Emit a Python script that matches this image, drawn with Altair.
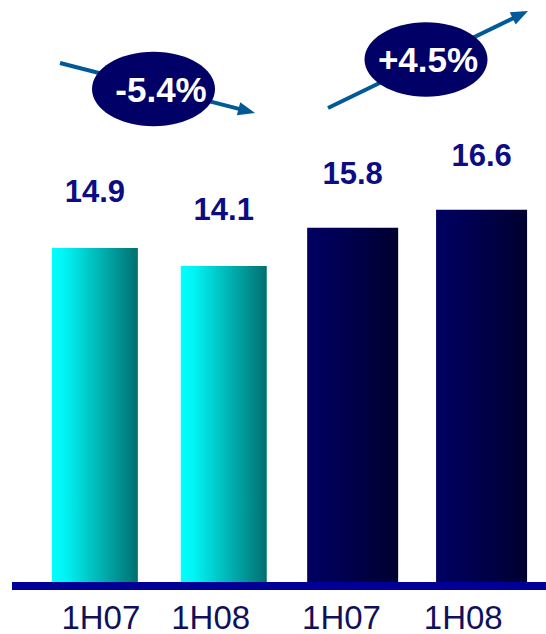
import math
import altair as alt
import pandas as pd

# ---------------- data ----------------
periods = ["1H07", "1H08", "1H07", "1H08"]
values = [14.9, 14.1, 15.8, 16.6]
groups = ["A", "A", "B", "B"]
changes = ["-5.4%", "+4.5%"]

df = pd.DataFrame({"idx": list(range(len(values))), "period": periods,
                   "value": values, "group": groups})
left = df[df["group"] == "A"]
right = df[df["group"] == "B"]

# ---------------- layout / style ----------------
W, H = 546, 582
xscale = alt.Scale(domain=[-0.697, 3.461], nice=False, zero=False)
yscale = alt.Scale(domain=[0, 25.96], nice=False, zero=True)

label_expr = "[" + ",".join("'%s'" % p for p in periods) + "][datum.value]"
x_axis = alt.Axis(
    values=list(range(len(periods))), labelExpr=label_expr, title=None,
    domain=False, ticks=False, tickSize=0, grid=False,
    labelFont="Liberation Sans", labelFontSize=33, labelColor="#10105c",
    labelPadding=46, labelBaseline="alphabetic", labelAlign="center",
    labelOffset=alt.ExprRef("[5.5,-13.6,-11.7,-18.8][datum.value]"),
)

X = alt.X("idx:Q", scale=xscale, axis=x_axis)
Y = alt.Y("value:Q", scale=yscale, axis=None)

cyan_grad = alt.Gradient(
    gradient="linear", x1=0, x2=1, y1=0, y2=0,
    stops=[alt.GradientStop(color="#00ffff", offset=0),
           alt.GradientStop(color="#00f4f4", offset=0.15),
           alt.GradientStop(color="#006f6f", offset=1)])
navy_grad = alt.Gradient(
    gradient="linear", x1=0, x2=1, y1=0, y2=0,
    stops=[alt.GradientStop(color="#000062", offset=0),
           alt.GradientStop(color="#00005a", offset=0.2),
           alt.GradientStop(color="#000030", offset=1)])

bars_left = alt.Chart(left).mark_bar(width=86, color=cyan_grad).encode(x=X, y=Y)
bars_right = alt.Chart(right).mark_bar(width=91, color=navy_grad).encode(x=X, y=Y)

lab_style = dict(font="Liberation Sans", fontSize=31, fontWeight="bold",
                 color="#0c0c85", baseline="alphabetic", align="center")
labels_left = alt.Chart(left).mark_text(dy=-46, **lab_style).encode(
    x=X, y=Y, text=alt.Text("value:Q", format=".1f"))
labels_right = alt.Chart(right).mark_text(dy=-44, **lab_style).encode(
    x=X, y=Y, text=alt.Text("value:Q", format=".1f"))

one = pd.DataFrame({"k": [0]})
baseline = alt.Chart(one).mark_rule(color="#000096", strokeWidth=8).encode(
    x=alt.value(12), x2=alt.value(546), y=alt.value(586))

# change call-outs: ellipse centre, text anchor, arrow start, arrow tip (pixels)
ANN = [
    dict(ell=(153.5, 89), txt=(161, 102), start=(60, 63), tip=(255, 113)),
    dict(ell=(426, 59.5), txt=(428, 72), start=(328, 108), tip=(528, 11)),
]
ELLIPSE = "M-1,0A1,0.605,0,1,1,1,0A1,0.605,0,1,1,-1,0Z"
HEAD = "M-1,-0.8L1,0L-1,0.8Z"
HEAD_LEN = 17
ARROW_COLOR = "#005a96"

ann_layers = []
for a, ch in zip(ANN, changes):
    sx, sy = a["start"]
    tx, ty = a["tip"]
    L = math.hypot(tx - sx, ty - sy)
    ux, uy = (tx - sx) / L, (ty - sy) / L
    cx, cy = tx - ux * HEAD_LEN / 2, ty - uy * HEAD_LEN / 2
    ang = math.degrees(math.atan2(uy, ux)) % 360
    ann_layers.append(
        alt.Chart(one).mark_rule(color=ARROW_COLOR, strokeWidth=4).encode(
            x=alt.value(sx), y=alt.value(sy), x2=alt.value(cx), y2=alt.value(cy)))
    ann_layers.append(
        alt.Chart(one).mark_point(shape=HEAD, filled=True, color=ARROW_COLOR,
                                  size=HEAD_LEN ** 2, angle=ang, opacity=1,
                                  strokeWidth=0).encode(
            x=alt.value(cx), y=alt.value(cy)))
    ann_layers.append(
        alt.Chart(one).mark_point(shape=ELLIPSE, filled=True, color="#000066",
                                  size=123 ** 2, opacity=1, strokeWidth=0).encode(
            x=alt.value(a["ell"][0]), y=alt.value(a["ell"][1])))
    ann_layers.append(
        alt.Chart(pd.DataFrame({"t": [ch]})).mark_text(
            font="Liberation Sans", fontSize=35, fontWeight="bold", color="white",
            baseline="alphabetic", align="center").encode(
            x=alt.value(a["txt"][0]), y=alt.value(a["txt"][1]), text="t:N"))

chart = alt.layer(
    bars_left, bars_right, baseline, labels_left, labels_right, *ann_layers
).properties(
    width=W, height=H,
    autosize=alt.AutoSizeParams(type="none"),
    padding={"left": 0, "right": 0, "top": 0, "bottom": 52},
    background="white",
).configure_view(stroke=None)

chart.save("out.html", embed_options={"renderer": "svg", "actions": False})
